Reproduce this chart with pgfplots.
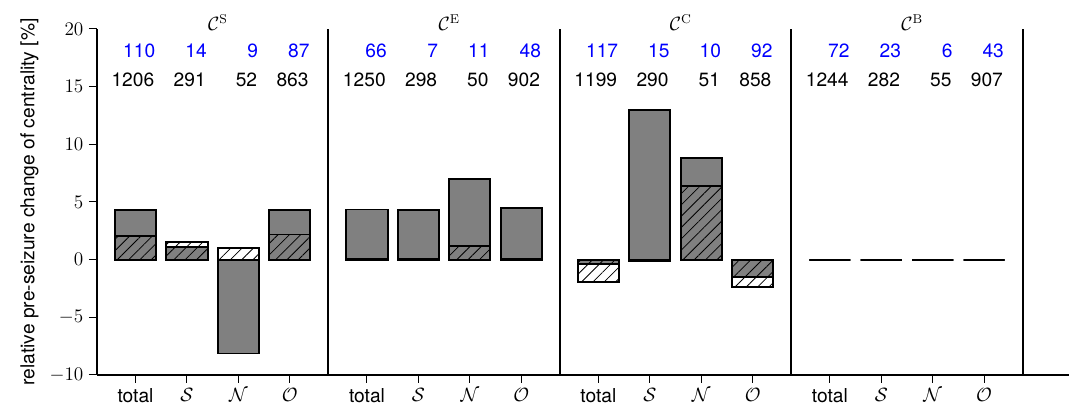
\documentclass[border=0pt]{standalone}
\usepackage[no-math]{fontspec}
\setmainfont{TeX Gyre Heros}
\usepackage{pgfplots}
\usepackage{pgfplotstable}
\pgfplotsset{compat=1.18}
\usetikzlibrary{patterns.meta,calc}
\pgfplotstableread{
x gray hatch
0 4.29 2.04
1 1.11 1.54
2 -8.14 1.02
3 4.29 2.18
4.5 4.35 0.08
5.5 4.29 0.03
6.5 6.98 1.17
7.5 4.44 0.08
9 -0.39 -1.93
10 13.0 -0.13
11 8.78 6.40
12 -1.49 -2.36
13.5 0 0
14.5 0 0
15.5 0 0
16.5 0 0
}\datatable
\begin{document}
\begin{tikzpicture}
\begin{axis}[
 scale only axis, width=607.5pt, height=216.25pt,
 xmin=-0.75, xmax=18.15, ymin=-10, ymax=20,
 axis x line*=bottom, axis y line*=left,
 axis line style={-, line width=1.25pt},
 ytick={-10,-5,0,5,10,15,20},
 xtick={0,1,2,3,4.5,5.5,6.5,7.5,9,10,11,12,13.5,14.5,15.5,16.5},
 xticklabels={total,$\mathcal{S}$,$\mathcal{N}$,$\mathcal{O}$,total,$\mathcal{S}$,$\mathcal{N}$,$\mathcal{O}$,total,$\mathcal{S}$,$\mathcal{N}$,$\mathcal{O}$,total,$\mathcal{S}$,$\mathcal{N}$,$\mathcal{O}$},
 tick align=outside, major tick length=5pt,
 tick style={black, line width=0.6pt},
 font=\large,
 ylabel={relative pre-seizure change of centrality [\%]},
 clip=false,
]
\addplot[black, line width=1.25pt, forget plot] coordinates {(3.75,-10) (3.75,20)};
\addplot[black, line width=1.25pt, forget plot] coordinates {(8.25,-10) (8.25,20)};
\addplot[black, line width=1.25pt, forget plot] coordinates {(12.75,-10) (12.75,20)};
\addplot[black, line width=1.25pt, forget plot] coordinates {(17.25,-10) (17.25,20)};
\addplot[ybar, bar width=0.8, bar shift=0pt, fill=gray, draw=black, line width=1.2pt] table[x=x,y=gray]{\datatable};
\addplot[ybar, bar width=0.8, bar shift=0pt, draw=black, line width=1.2pt, pattern={Lines[angle=45,distance=5pt,line width=0.5pt]}] table[x=x,y=hatch]{\datatable};
% group titles
\node[anchor=base] at (axis cs:1.6,19.9) {$\mathcal{C}^{\mathrm{S}}$};
\node[anchor=base] at (axis cs:6.1,19.9) {$\mathcal{C}^{\mathrm{E}}$};
\node[anchor=base] at (axis cs:10.6,19.9) {$\mathcal{C}^{\mathrm{C}}$};
\node[anchor=base] at (axis cs:15.1,19.9) {$\mathcal{C}^{\mathrm{B}}$};
% counts
\foreach \xx/\bl/\bk in {0/110/1206,1/14/291,2/9/52,3/87/863,4.5/66/1250,5.5/7/298,6.5/11/50,7.5/48/902,9/117/1199,10/15/290,11/10/51,12/92/858,13.5/72/1244,14.5/23/282,15.5/6/55,16.5/43/907}{
 \edef\temp{\noexpand\node[anchor=base east, text=blue, inner sep=0pt] at (axis cs:\xx+0.39,17.54) {\bl};
 \noexpand\node[anchor=base east, text=black, inner sep=0pt] at (axis cs:\xx+0.37,15.05) {\bk};}
 \temp
}
\end{axis}
\pgfresetboundingbox
\path[use as bounding box] ($(current axis.south west)+(-60.6pt,-22.5pt)$) rectangle ($(current axis.north east)+(0,18.1pt)$);
\end{tikzpicture}
\end{document}
